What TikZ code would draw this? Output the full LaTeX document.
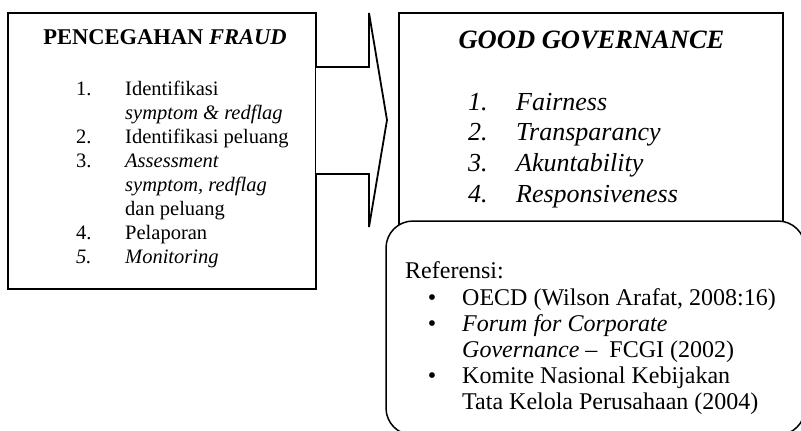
\documentclass[tikz,border=0pt]{standalone}
\usepackage{fontspec}
\setmainfont{Liberation Serif}
\begin{document}
\begin{tikzpicture}[x=1pt,y=-1pt, line join=miter,
  frameA/.style={draw=black, line width=1.8pt},
  frameB/.style={draw=black, line width=1.5pt},
  lt/.style={anchor=base west, inner sep=0pt, font=\fontsize{20.5}{24}\selectfont},
  rt/.style={anchor=base west, inner sep=0pt, font=\fontsize{26}{30}\selectfont\itshape},
  rf/.style={anchor=base west, inner sep=0pt, font=\fontsize{24}{27}\selectfont},
  bul/.style={anchor=base, inner sep=0pt, font=\fontsize{24}{27}\selectfont},
]
\useasboundingbox (0,0) rectangle (801,431);
\clip (0,0) rectangle (801,431);
\fill[white] (0,0) rectangle (801,431);

% left box
\draw[frameA] (8,13) rectangle (316,289);
% block arrow
\draw[frameA, fill=white] (316,67) -- (369,67) -- (369,13) -- (387,120) -- (369,227) -- (369,174) -- (316,174);
% right box
\draw[frameB] (399,260) -- (399,13) -- (783,13) -- (783,260);
% rounded reference box
\draw[frameB, fill=white, rounded corners=27pt] (386,221) rectangle (805,435);

% left texts
\node[anchor=base, inner sep=0pt, font=\fontsize{22.5}{26}\selectfont\bfseries] (fh) at (165,44) {PENCEGAHAN \textit{FRAUD}};
\node[lt] (n1) at (76,95) {1.};
\node[lt] (t1) at (125,95) {Identifikasi};
\node[lt] (t1b) at (125,119) {\textit{symptom \& redflag}};
\node[lt] (n2) at (76,143) {2.};
\node[lt] (t2) at (125,143) {Identifikasi peluang};
\node[lt] (n3) at (76,167) {3.};
\node[lt] (t3) at (125,167) {\textit{Assessment}};
\node[lt] (t3b) at (125,191) {\textit{symptom, redflag}};
\node[lt] (t3c) at (125,215) {dan peluang};
\node[lt] (n4) at (76,239) {4.};
\node[lt] (t4) at (125,239) {Pelaporan};
\node[lt] (n5) at (76,263) {\textit{5.}};
\node[lt] (t5) at (125,263) {\textit{Monitoring}};

% right texts
\node[anchor=base, inner sep=0pt, font=\fontsize{26.5}{30}\selectfont\bfseries\itshape] (gh) at (591.5,48) {GOOD GOVERNANCE};
\node[rt] (g1) at (468,110) {1.};
\node[rt] (h1) at (516,110) {Fairness};
\node[rt] (g2) at (468,140) {2.};
\node[rt] (h2) at (516,140) {Transparancy};
\node[rt] (g3) at (468,171) {3.};
\node[rt] (h3) at (516,171) {Akuntability};
\node[rt] (g4) at (468,202) {4.};
\node[rt] (h4) at (516,202) {Responsiveness};

% references
\node[rf] (rh) at (405,278) {Referensi:};
\node[bul] (b1) at (432,305) {•};
\node[rf] (r1) at (462,305) {OECD (Wilson Arafat, 2008:16)};
\node[bul] (b2) at (432,331) {•};
\node[rf] (r2) at (462,331) {\textit{Forum for Corporate}};
\node[rf] (r2b) at (462,357) {\textit{Governance} –\ \ FCGI (2002)};
\node[bul] (b3) at (432,383) {•};
\node[rf] (r3) at (462,383) {Komite Nasional Kebijakan};
\node[rf] (r3b) at (462,409) {Tata Kelola Perusahaan (2004)};
\end{tikzpicture}
\end{document}
